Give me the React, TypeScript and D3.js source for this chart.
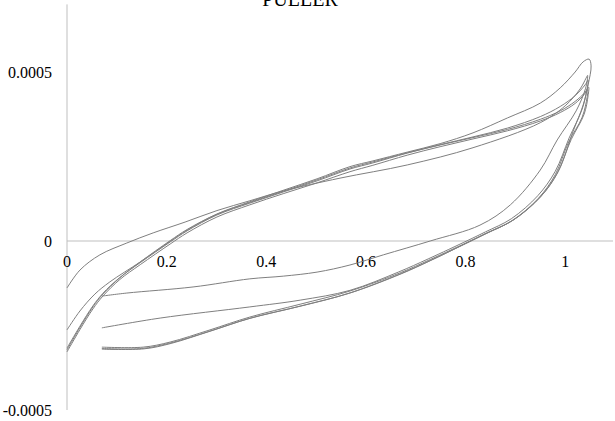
import { useEffect, useRef } from "react"
import * as d3 from "d3"

const title = "PULLER"
const xTicks = [0, 0.2, 0.4, 0.6, 0.8, 1]
const yTicks = [-0.0005, 0, 0.0005]

// each cycle: loading branch from x=0 up to the peak, then unloading back to x~0.07
const cycleA = [
  [0, -0.000139], [0.026, -0.000086], [0.066, -0.000041], [0.12, -0.000006], [0.173, 0.000024],
  [0.237, 0.000056], [0.301, 0.00009], [0.367, 0.000119], [0.434, 0.000148], [0.548, 0.000186],
  [0.683, 0.000225], [0.815, 0.000276], [0.95, 0.00035], [1.0, 0.0004], [1.03, 0.00045],
  [1.042, 0.000482], [1.045, 0.00049], [1.041, 0.000452], [1.022, 0.000385], [0.984, 0.000299],
  [0.95, 0.00021], [0.89, 0.000107], [0.829, 0.000047], [0.729, 0], [0.635, -0.000041],
  [0.568, -0.000071], [0.502, -0.000092], [0.434, -0.000104], [0.367, -0.000112], [0.253, -0.000136],
  [0.12, -0.000154], [0.07, -0.000163],
]

const cycleB = [
  [0, -0.000263], [0.026, -0.000207], [0.056, -0.000157], [0.086, -0.000121], [0.147, -0.000062],
  [0.207, -0.000001], [0.241, 0.000032], [0.301, 0.000079], [0.367, 0.000114], [0.434, 0.000147],
  [0.502, 0.000181], [0.568, 0.000216], [0.614, 0.000234], [0.683, 0.000261], [0.749, 0.000285],
  [0.815, 0.000308], [0.884, 0.000334], [0.95, 0.000368], [0.99, 0.000398], [1.02, 0.00043],
  [1.04, 0.000462], [1.046, 0.000476], [1.044, 0.00045], [1.034, 0.00039], [1.008, 0.000305],
  [0.98, 0.000206], [0.945, 0.000134], [0.892, 0.000066], [0.84, 0.000027], [0.805, 0.000002],
  [0.725, -0.000053], [0.665, -0.000092], [0.568, -0.000146], [0.468, -0.000175], [0.367, -0.000195],
  [0.187, -0.000228], [0.07, -0.000257],
]

const cycleC = [
  [0, -0.000322], [0.026, -0.000256], [0.052, -0.000195], [0.072, -0.000157], [0.106, -0.000109],
  [0.147, -0.000062], [0.207, 0.000001], [0.241, 0.000034], [0.301, 0.00008], [0.367, 0.000116],
  [0.434, 0.00015], [0.502, 0.000184], [0.568, 0.00022], [0.614, 0.000237], [0.683, 0.000263],
  [0.749, 0.000288], [0.815, 0.00032], [0.884, 0.000364], [0.95, 0.000408], [0.99, 0.000453],
  [1.02, 0.0005], [1.036, 0.00053], [1.048, 0.000538], [1.052, 0.000518], [1.046, 0.000462],
  [1.036, 0.000402], [1.016, 0.000325], [0.986, 0.000205], [0.952, 0.000133], [0.898, 0.000064],
  [0.846, 0.000025], [0.811, 0], [0.731, -0.000057], [0.671, -0.000097], [0.57, -0.000153],
  [0.47, -0.000192], [0.369, -0.000228], [0.289, -0.000266], [0.209, -0.000303], [0.155, -0.000319],
  [0.07, -0.00032],
]

const cycleD = [
  [0, -0.000317], [0.026, -0.000252], [0.052, -0.000192], [0.072, -0.000155], [0.106, -0.000108],
  [0.147, -0.000064], [0.207, -0.000003], [0.241, 0.00003], [0.301, 0.000077], [0.367, 0.000112],
  [0.434, 0.000145], [0.502, 0.000178], [0.568, 0.000213], [0.614, 0.000231], [0.683, 0.00026],
  [0.749, 0.000284], [0.815, 0.000306], [0.884, 0.00033], [0.95, 0.00036], [0.99, 0.000385],
  [1.02, 0.000413], [1.04, 0.00044], [1.047, 0.000455], [1.046, 0.00043], [1.038, 0.000375],
  [1.012, 0.0003], [0.984, 0.000201], [0.95, 0.00013], [0.896, 0.000062], [0.843, 0.000024],
  [0.809, 0], [0.729, -0.000055], [0.669, -0.000094], [0.568, -0.000148], [0.468, -0.000187],
  [0.367, -0.000225], [0.287, -0.000263], [0.207, -0.000299], [0.153, -0.000314], [0.07, -0.000314],
]

const cycleE = [
  [0, -0.000328], [0.026, -0.000262], [0.052, -0.000201], [0.072, -0.000163], [0.106, -0.000114],
  [0.147, -0.00007], [0.207, -0.000009], [0.241, 0.000024], [0.301, 0.000071], [0.367, 0.000107],
  [0.434, 0.00014], [0.502, 0.000172], [0.568, 0.000205], [0.614, 0.000224], [0.683, 0.000254],
  [0.749, 0.000279], [0.815, 0.000302], [0.884, 0.000326], [0.95, 0.000355], [0.99, 0.00038],
  [1.02, 0.000407], [1.038, 0.000433], [1.045, 0.000447], [1.044, 0.000425], [1.034, 0.000366],
  [1.007, 0.000293], [0.98, 0.000196], [0.946, 0.000126], [0.892, 0.000059], [0.839, 0.000021],
  [0.805, -0.000004], [0.726, -0.00006], [0.666, -0.000099], [0.565, -0.000155], [0.465, -0.000194],
  [0.364, -0.00023], [0.284, -0.000268], [0.204, -0.000303], [0.15, -0.000318], [0.07, -0.000318],
]

const cycles = [cycleA, cycleB, cycleC, cycleD, cycleE]

export default function App() {
  const svgRef = useRef<SVGSVGElement | null>(null)

  useEffect(() => {
    if (!svgRef.current) return
    const svg = d3.select(svgRef.current)
    svg.selectAll("*").remove()

    const font = "'Liberation Serif', 'Times New Roman', serif"

    const x = d3.scaleLinear().domain([0, 1.1]).range([67, 615])
    const y = d3.scaleLinear().domain([-0.0005, 0.0007]).range([410, 4.4])

    // axis lines
    svg
      .append("line")
      .attr("x1", x(0))
      .attr("x2", x(0))
      .attr("y1", y(0.0007))
      .attr("y2", y(-0.0005))
      .attr("stroke", "#bfbfbf")
      .attr("stroke-width", 1)

    svg
      .append("line")
      .attr("x1", x(0))
      .attr("x2", x(1.1) - 2)
      .attr("y1", y(0))
      .attr("y2", y(0))
      .attr("stroke", "#bfbfbf")
      .attr("stroke-width", 1)

    // tick labels
    svg
      .selectAll(".ylab")
      .data(yTicks)
      .enter()
      .append("text")
      .attr("class", "ylab")
      .attr("x", 52)
      .attr("y", (d) => y(d))
      .attr("dy", "0.35em")
      .attr("text-anchor", "end")
      .attr("font-family", font)
      .attr("font-size", "16px")
      .attr("fill", "#000")
      .text((d) => String(d))

    svg
      .selectAll(".xlab")
      .data(xTicks)
      .enter()
      .append("text")
      .attr("class", "xlab")
      .attr("x", (d) => x(d))
      .attr("y", y(0) + 26)
      .attr("text-anchor", "middle")
      .attr("font-family", font)
      .attr("font-size", "16px")
      .attr("fill", "#000")
      .text((d) => String(d))

    // title, cut off at the top as in the source
    svg
      .append("text")
      .attr("x", 300)
      .attr("y", 6)
      .attr("text-anchor", "middle")
      .attr("font-family", font)
      .attr("font-size", "20px")
      .attr("fill", "#000")
      .text(title)

    const line = d3
      .line<number[]>()
      .x((d) => x(d[0]))
      .y((d) => y(d[1]))
      .curve(d3.curveCatmullRom.alpha(0.5))

    svg
      .selectAll(".cycle")
      .data(cycles)
      .enter()
      .append("path")
      .attr("class", "cycle")
      .attr("fill", "none")
      .attr("stroke", "#7f7f7f")
      .attr("stroke-width", 1)
      .attr("d", (d) => line(d))
  }, [])

  return (
    <svg
      ref={svgRef}
      width={615}
      height={421}
      style={{ position: "absolute", left: 0, top: 0, background: "#fff" }}
    ></svg>
  )
}
